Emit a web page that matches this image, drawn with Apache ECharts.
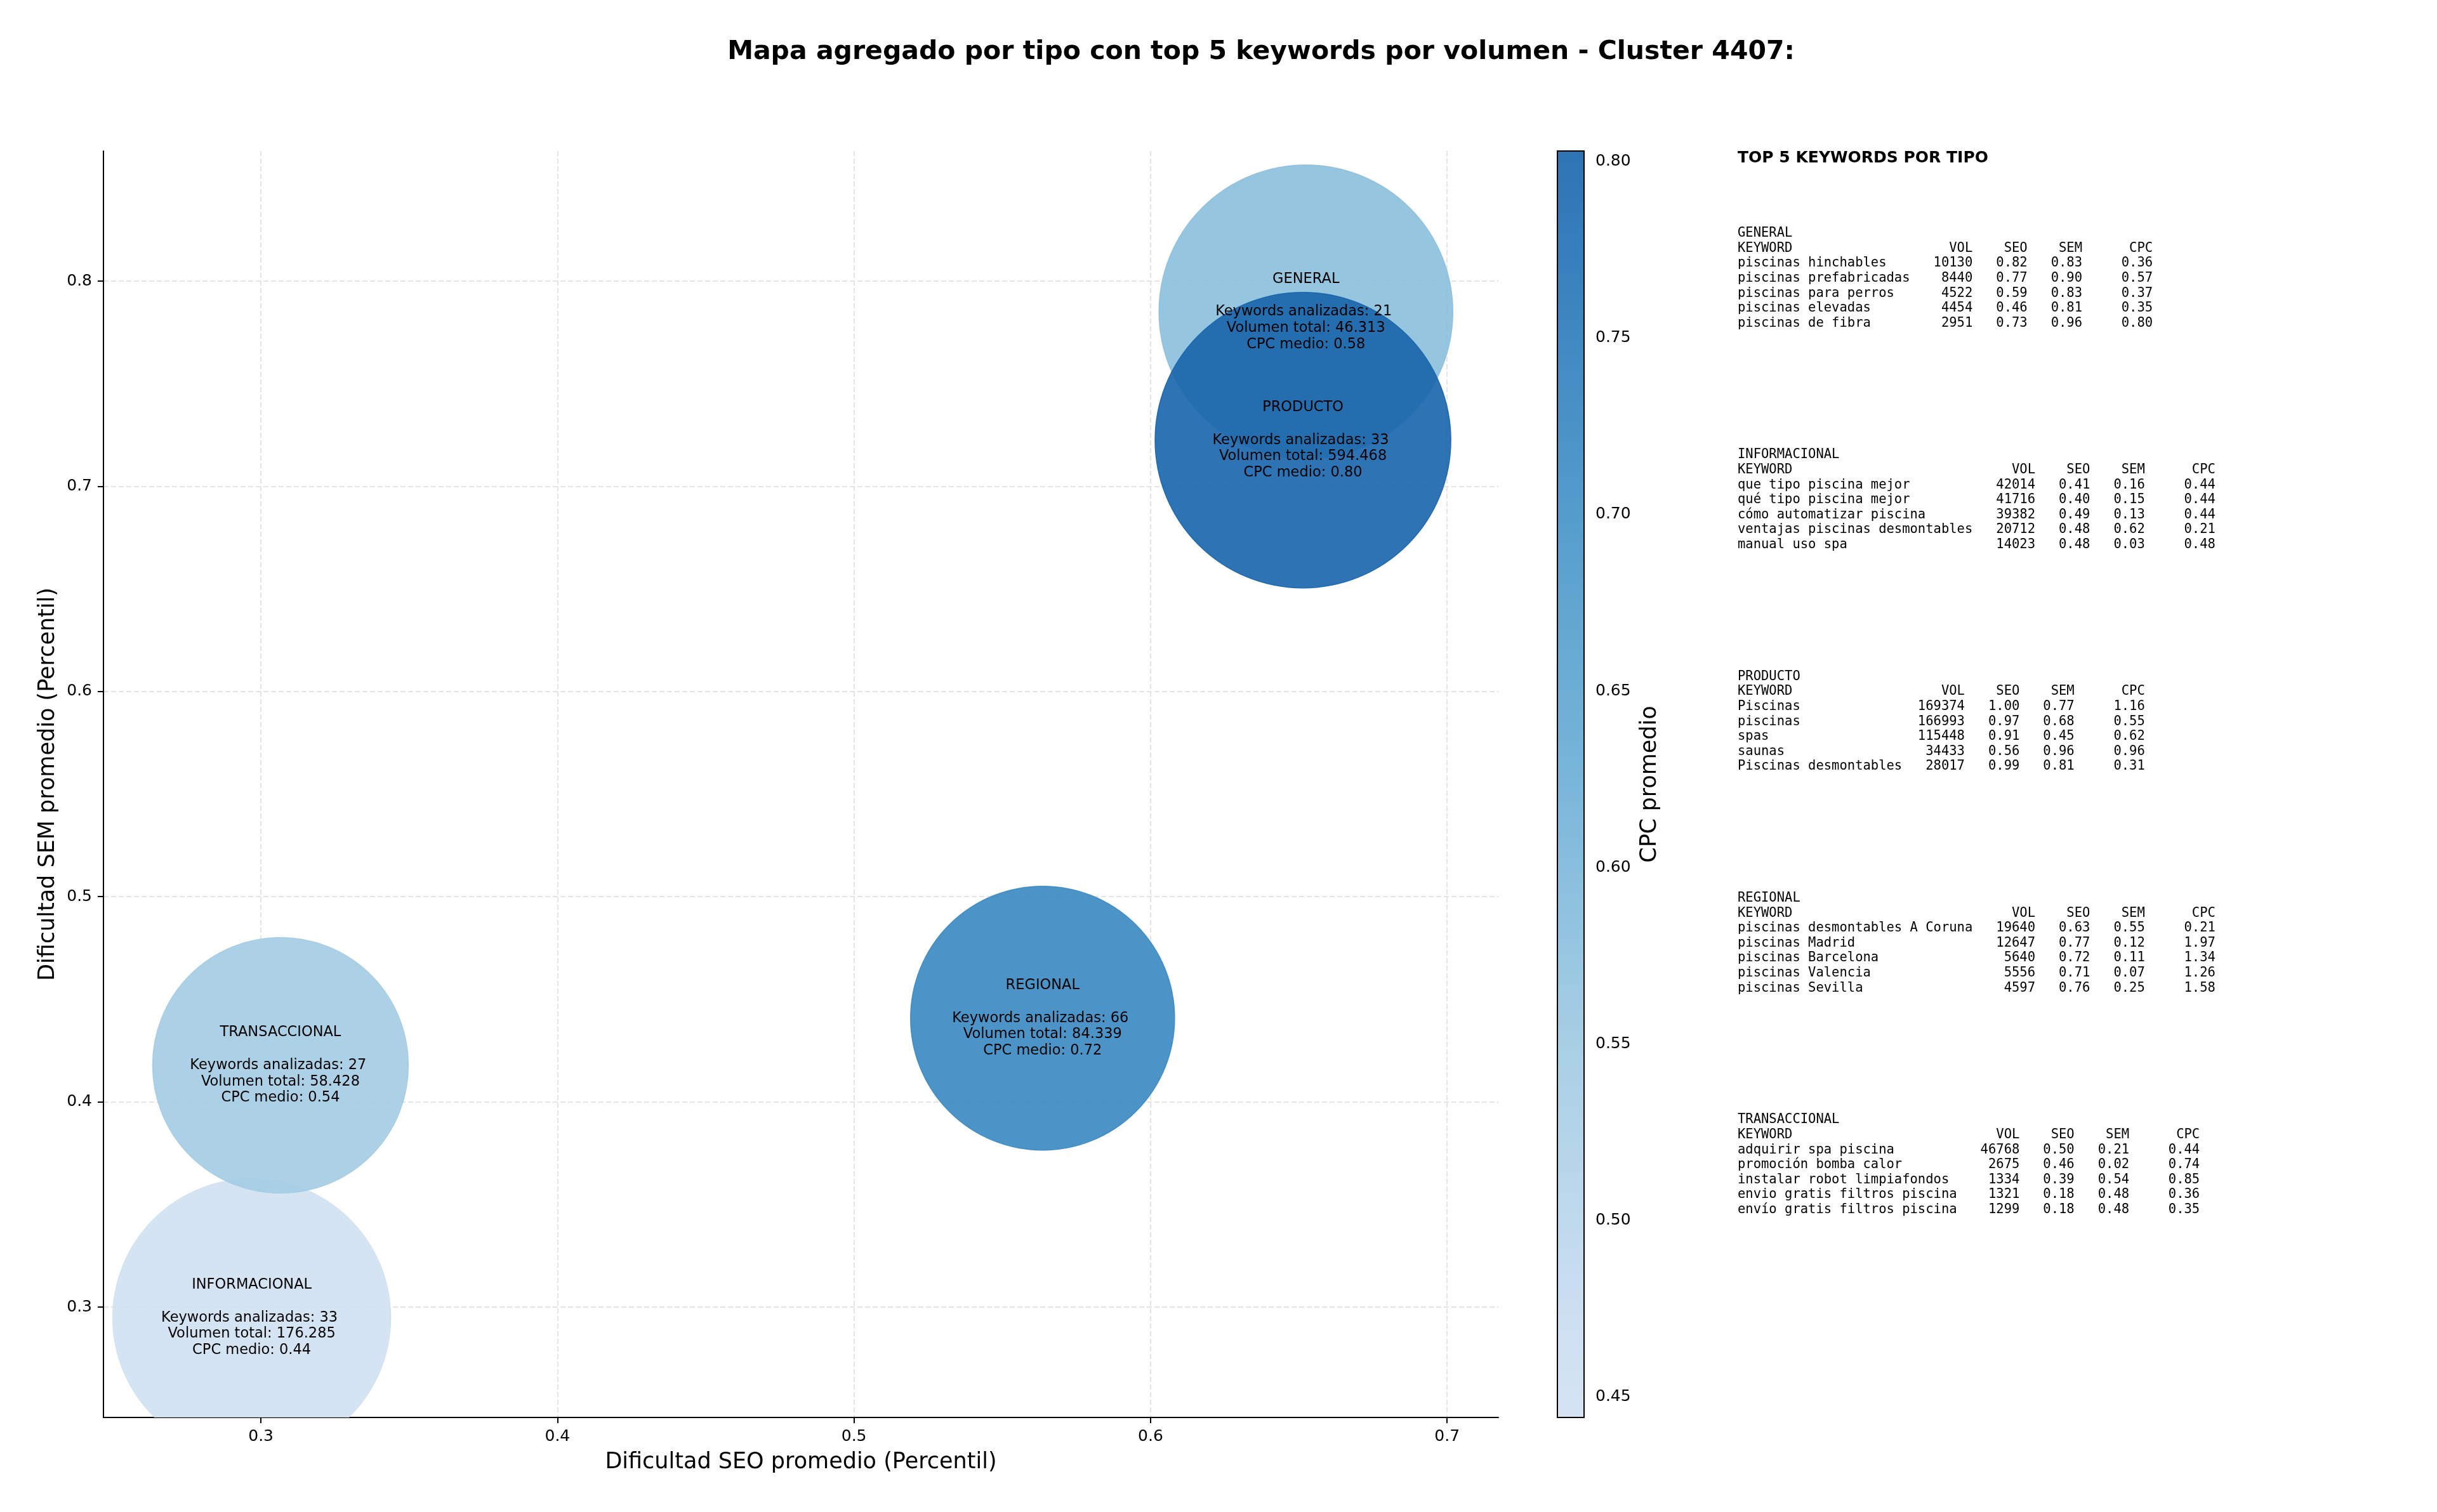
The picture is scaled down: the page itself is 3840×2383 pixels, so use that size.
<!DOCTYPE html>
<html>
<head>
<meta charset="utf-8">
<script src="https://cdn.jsdelivr.net/npm/echarts@6/dist/echarts.min.js"></script>
<style>
  html, body { margin: 0; padding: 0; background: #fff; }
  #chart { width: 3840px; height: 2383px; }
</style>
</head>
<body>
<div id="chart"></div>
<script>
/* ----------------------------- datos agregados ---------------------------- */
const tipos = ['GENERAL', 'INFORMACIONAL', 'PRODUCTO', 'REGIONAL', 'TRANSACCIONAL'];
const seoMedio = [0.6524, 0.2969, 0.6514, 0.5636, 0.3066];
const semMedio = [0.785, 0.2948, 0.7225, 0.4408, 0.4178];
const cpcMedio = [0.578, 0.4442, 0.803, 0.72, 0.54];
const numKeywords = [21, 33, 33, 66, 27];
const volumenTotal = [46313, 176285, 594468, 84339, 58428];
const areaBurbuja = [2144, 1918, 2172, 1731, 1624];

const ticksSeo = [0.3, 0.4, 0.5, 0.6, 0.7];
const ticksSem = [0.3, 0.4, 0.5, 0.6, 0.7, 0.8];
const ticksCpc = [0.45, 0.5, 0.55, 0.6, 0.65, 0.7, 0.75, 0.8];

/* ------------------------- top 5 keywords por tipo ------------------------- */
const kwGeneral = ['piscinas hinchables', 'piscinas prefabricadas', 'piscinas para perros', 'piscinas elevadas', 'piscinas de fibra'];
const volGeneral = [10130, 8440, 4522, 4454, 2951];
const seoGeneral = [0.82, 0.77, 0.59, 0.46, 0.73];
const semGeneral = [0.83, 0.90, 0.83, 0.81, 0.96];
const cpcGeneral = [0.36, 0.57, 0.37, 0.35, 0.80];

const kwInformacional = ['que tipo piscina mejor', 'qué tipo piscina mejor', 'cómo automatizar piscina', 'ventajas piscinas desmontables', 'manual uso spa'];
const volInformacional = [42014, 41716, 39382, 20712, 14023];
const seoInformacional = [0.41, 0.40, 0.49, 0.48, 0.48];
const semInformacional = [0.16, 0.15, 0.13, 0.62, 0.03];
const cpcInformacional = [0.44, 0.44, 0.44, 0.21, 0.48];

const kwProducto = ['Piscinas', 'piscinas', 'spas', 'saunas', 'Piscinas desmontables'];
const volProducto = [169374, 166993, 115448, 34433, 28017];
const seoProducto = [1.00, 0.97, 0.91, 0.56, 0.99];
const semProducto = [0.77, 0.68, 0.45, 0.96, 0.81];
const cpcProducto = [1.16, 0.55, 0.62, 0.96, 0.31];

const kwRegional = ['piscinas desmontables A Coruna', 'piscinas Madrid', 'piscinas Barcelona', 'piscinas Valencia', 'piscinas Sevilla'];
const volRegional = [19640, 12647, 5640, 5556, 4597];
const seoRegional = [0.63, 0.77, 0.72, 0.71, 0.76];
const semRegional = [0.55, 0.12, 0.11, 0.07, 0.25];
const cpcRegional = [0.21, 1.97, 1.34, 1.26, 1.58];

const kwTransaccional = ['adquirir spa piscina', 'promoción bomba calor', 'instalar robot limpiafondos', 'envio gratis filtros piscina', 'envío gratis filtros piscina'];
const volTransaccional = [46768, 2675, 1334, 1321, 1299];
const seoTransaccional = [0.50, 0.46, 0.39, 0.18, 0.18];
const semTransaccional = [0.21, 0.02, 0.54, 0.48, 0.48];
const cpcTransaccional = [0.44, 0.74, 0.85, 0.36, 0.35];

/* --------------------------------- helpers -------------------------------- */
const cpcMin = Math.min(...cpcMedio);
const cpcMax = Math.max(...cpcMedio);

// matplotlib "Blues", recortado a 0.2 - 0.8
const bluesStops = [
  [247, 251, 255], [222, 235, 247], [198, 219, 239], [158, 202, 225], [107, 174, 214],
  [66, 146, 198], [33, 113, 181], [8, 81, 156], [8, 48, 107]
];
const blues = (t, alpha) => {
  const pos = t * (bluesStops.length - 1);
  const i = Math.min(Math.floor(pos), bluesStops.length - 2);
  const f = pos - i;
  const c = bluesStops[i].map((v, k) => v + (bluesStops[i + 1][k] - v) * f);
  const a = alpha == null ? 1 : alpha;
  // mezcla con fondo blanco
  const m = c.map(v => Math.round(v * a + 255 * (1 - a)));
  return `rgb(${m[0]},${m[1]},${m[2]})`;
};
const nSamples = 25;
const cmapColors = [];
const cbarStops = [];
for (let i = 0; i < nSamples; i++) {
  const t = 0.2 + 0.6 * i / (nSamples - 1);
  cmapColors.push(blues(t));
  cbarStops.push({ offset: i / (nSamples - 1), color: blues(t, 0.9) });
}

const fmtMiles = v => String(v).replace(/\B(?=(\d{3})+(?!\d))/g, '.');

const buildTable = (name, kws, vols, seos, sems, cpcs) => {
  const w = Math.max(...kws.map(k => k.length));
  const lines = [name,
    'KEYWORD'.padEnd(w) + 'VOL'.padStart(8) + 'SEO'.padStart(7) + 'SEM'.padStart(7) + 'CPC'.padStart(9)];
  kws.forEach((k, i) => {
    lines.push(k.padEnd(w) + String(vols[i]).padStart(8) + seos[i].toFixed(2).padStart(7) +
      sems[i].toFixed(2).padStart(7) + cpcs[i].toFixed(2).padStart(9));
  });
  return lines.join('\n');
};

const tablas = [
  buildTable('GENERAL', kwGeneral, volGeneral, seoGeneral, semGeneral, cpcGeneral),
  buildTable('INFORMACIONAL', kwInformacional, volInformacional, seoInformacional, semInformacional, cpcInformacional),
  buildTable('PRODUCTO', kwProducto, volProducto, seoProducto, semProducto, cpcProducto),
  buildTable('REGIONAL', kwRegional, volRegional, seoRegional, semRegional, cpcRegional),
  buildTable('TRANSACCIONAL', kwTransaccional, volTransaccional, seoTransaccional, semTransaccional, cpcTransaccional)
];

const bubbleData = tipos.map((t, i) => [seoMedio[i], semMedio[i], cpcMedio[i], areaBurbuja[i], i]);

const bubbleLabel = i =>
  `${tipos[i]}\n\nKeywords analizadas: ${numKeywords[i]} \nVolumen total: ${fmtMiles(volumenTotal[i])}\nCPC medio: ${cpcMedio[i].toFixed(2)}`;

/* ---------------------------------- chart --------------------------------- */
const chart = echarts.init(document.getElementById('chart'));

const axisCommon = {
  axisLine: { show: true, onZero: false, lineStyle: { color: '#000', width: 2 } },
  axisTick: { show: true, length: 9, lineStyle: { color: '#000', width: 2 } },
  axisLabel: { color: '#000', fontSize: 25, margin: 18 },
  splitLine: { show: true, lineStyle: { color: '#e4e4e4', width: 2, type: [8, 4] } },
  nameLocation: 'middle',
  nameTextStyle: { color: '#000', fontSize: 35 }
};

const option = {
  backgroundColor: '#fff',
  animation: false,
  textStyle: { fontFamily: 'DejaVu Sans' },
  title: {
    text: 'Mapa agregado por tipo con top 5 keywords por volumen - Cluster 4407:',
    left: 1987,
    top: 62,
    padding: 0,
    textAlign: 'center',
    textStyle: { fontSize: 41, fontWeight: 'bold', color: '#000', fontFamily: 'DejaVu Sans' }
  },
  grid: [
    { left: 163, top: 238, width: 2198, height: 1996, containLabel: false },
    { left: 2454, top: 238, width: 42, height: 1996, containLabel: false }
  ],
  xAxis: [
    {
      ...axisCommon,
      type: 'value',
      gridIndex: 0,
      min: 0.2469,
      max: 0.7173,
      axisTick: { ...axisCommon.axisTick, customValues: ticksSeo },
      axisLabel: { ...axisCommon.axisLabel, customValues: ticksSeo, formatter: v => v.toFixed(1) },
      name: 'Dificultad SEO promedio (Percentil)',
      nameGap: 53
    },
    { type: 'value', gridIndex: 1, min: 0, max: 1, show: false }
  ],
  yAxis: [
    {
      ...axisCommon,
      type: 'value',
      gridIndex: 0,
      min: 0.2462,
      max: 0.8634,
      axisTick: { ...axisCommon.axisTick, customValues: ticksSem },
      axisLabel: { ...axisCommon.axisLabel, customValues: ticksSem, formatter: v => v.toFixed(1) },
      name: 'Dificultad SEM promedio (Percentil)',
      nameGap: 70
    },
    {
      type: 'value',
      gridIndex: 1,
      position: 'right',
      min: cpcMin,
      max: cpcMax,
      axisLine: { show: false },
      axisTick: { show: true, length: 9, lineStyle: { color: '#000', width: 2 }, customValues: ticksCpc },
      axisLabel: { color: '#000', fontSize: 25, margin: 18, customValues: ticksCpc, formatter: v => v.toFixed(2) },
      splitLine: { show: false },
      name: 'CPC promedio',
      nameLocation: 'middle',
      nameGap: 86,
      nameRotate: 90,
      nameTextStyle: { color: '#000', fontSize: 35 }
    }
  ],
  visualMap: {
    show: false,
    type: 'continuous',
    min: cpcMin,
    max: cpcMax,
    dimension: 2,
    seriesIndex: 0,
    inRange: { color: cmapColors }
  },
  series: [
    {
      name: 'burbujas',
      type: 'custom',
      xAxisIndex: 0,
      yAxisIndex: 0,
      clip: true,
      data: bubbleData,
      renderItem: (params, api) => {
        const p = api.coord([api.value(0), api.value(1)]);
        const r = Math.sqrt(api.value(3)) * 5;
        const c = api.visual('color');
        return {
          type: 'circle',
          shape: { cx: p[0], cy: p[1], r: r },
          style: { fill: c, stroke: c, lineWidth: 1.5, opacity: 0.9 }
        };
      },
      z: 2
    },
    {
      name: 'etiquetas',
      type: 'custom',
      xAxisIndex: 0,
      yAxisIndex: 0,
      data: bubbleData,
      renderItem: (params, api) => {
        const p = api.coord([api.value(0), api.value(1)]);
        return {
          type: 'text',
          x: p[0],
          y: p[1],
          style: {
            text: bubbleLabel(api.value(4)),
            align: 'center',
            verticalAlign: 'middle',
            fontSize: 22.5,
            fontFamily: 'DejaVu Sans',
            lineHeight: 25.7,
            fill: '#000'
          }
        };
      },
      z: 5
    },
    {
      name: 'colorbar',
      type: 'custom',
      xAxisIndex: 1,
      yAxisIndex: 1,
      data: [[0, cpcMin, 1, cpcMax]],
      renderItem: (params, api) => {
        const a = api.coord([api.value(0), api.value(3)]);
        const b = api.coord([api.value(2), api.value(1)]);
        const shape = { x: a[0], y: a[1], width: b[0] - a[0], height: b[1] - a[1] };
        return {
          type: 'group',
          children: [
            {
              type: 'rect',
              shape: shape,
              style: { fill: new echarts.graphic.LinearGradient(0, 1, 0, 0, cbarStops) }
            },
            {
              type: 'rect',
              shape: shape,
              style: { fill: 'none', stroke: '#000', lineWidth: 2 }
            }
          ]
        };
      }
    }
  ],
  graphic: [
    {
      type: 'text',
      left: 2738,
      top: 237,
      style: {
        text: 'TOP 5 KEYWORDS POR TIPO',
        fontSize: 25,
        fontWeight: 'bold',
        fontFamily: 'DejaVu Sans',
        fill: '#000'
      }
    },
    ...tablas.map((t, k) => ({
      type: 'text',
      left: 2738,
      top: 356 + k * 349.3,
      style: {
        text: t,
        fontSize: 20.5,
        fontFamily: 'DejaVu Sans Mono',
        lineHeight: 23.6,
        fill: '#000'
      }
    }))
  ]
};

chart.setOption(option);
</script>
</body>
</html>
